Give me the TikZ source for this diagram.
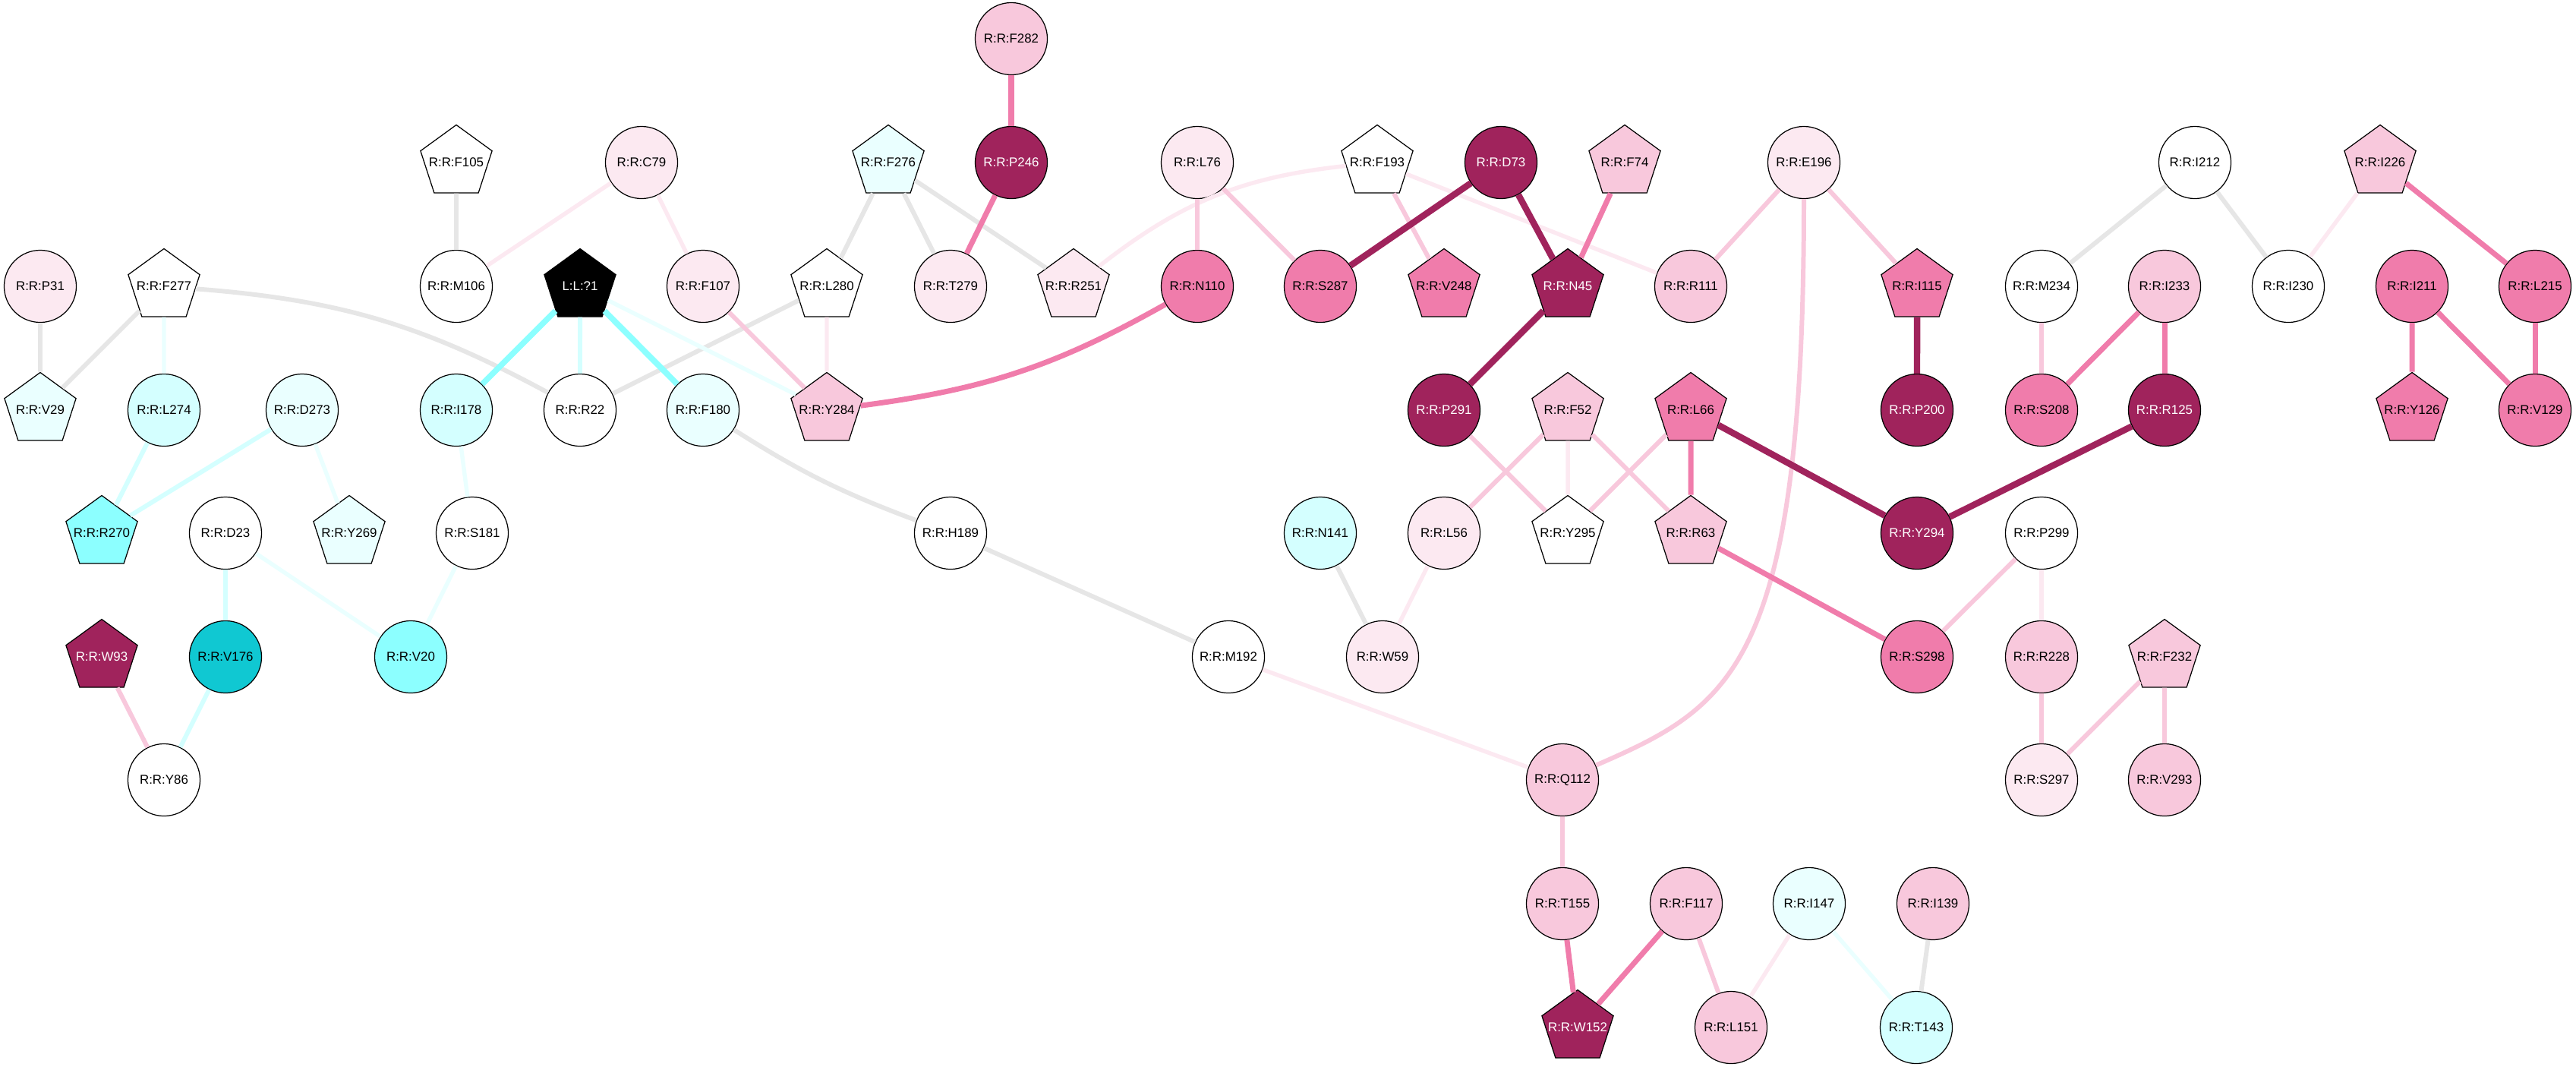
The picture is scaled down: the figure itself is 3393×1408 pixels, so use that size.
\documentclass[tikz,border=0pt]{standalone}
\usepackage{fontspec}
\setmainfont{Liberation Sans}
\usetikzlibrary{shapes.geometric}
\definecolor{gry}{HTML}{E6E6E6}
\definecolor{vlpink}{HTML}{FCE9F1}
\definecolor{lpink}{HTML}{F8C8DC}
\definecolor{mpink}{HTML}{F07CAB}
\definecolor{dmag}{HTML}{A0235C}
\definecolor{vlcyan}{HTML}{EAFFFF}
\definecolor{lcyan}{HTML}{D4FFFF}
\definecolor{cyn}{HTML}{8CFFFF}
\definecolor{dcyan}{HTML}{10C8D2}
\begin{document}
\begin{tikzpicture}[
    x=0.01cm, y=0.01cm,
    res/.style={
      circle, draw=black, line width=0.35pt, fill=white,
      minimum size=0.95cm, inner sep=0pt,
      font=\fontsize{4.8}{5}\selectfont
    },
    pent/.style={
      res, regular polygon, regular polygon sides=5,
      minimum size=0.99cm, inner xsep=-8pt, inner ysep=-1pt
    },
    egrey/.style={draw=gry, line width=1.7pt},
    evlpink/.style={draw=vlpink, line width=1.55pt},
    elpink/.style={draw=lpink, line width=1.7pt},
    empink/.style={draw=mpink, line width=2pt},
    edmag/.style={draw=dmag, line width=2.4pt},
    evlcyan/.style={draw=vlcyan, line width=1.55pt},
    elcyan/.style={draw=lcyan, line width=1.7pt},
    ecyan/.style={draw=cyn, line width=2.2pt}
  ]
    \useasboundingbox (0,0) rectangle (3393,-1408);

    \node[res,fill=lpink] (F282) at (1332,-51) {R:R:F282};

    \node[pent] (F105) at (601,-214) {R:R:F105};
    \node[res,fill=vlpink] (C79) at (845,-214) {R:R:C79};
    \node[pent,fill=vlcyan] (F276) at (1170,-214) {R:R:F276};
    \node[res,fill=dmag,text=white] (P246) at (1332,-214) {R:R:P246};
    \node[res,fill=vlpink] (L76) at (1577,-214) {R:R:L76};
    \node[pent] (F193) at (1814,-214) {R:R:F193};
    \node[res,fill=dmag,text=white] (D73) at (1977,-214) {R:R:D73};
    \node[pent,fill=lpink] (F74) at (2140,-214) {R:R:F74};
    \node[res,fill=vlpink] (E196) at (2376,-214) {R:R:E196};
    \node[res] (I212) at (2891,-214) {R:R:I212};
    \node[pent,fill=lpink] (I226) at (3135,-214) {R:R:I226};

    \node[res,fill=vlpink] (P31) at (53,-377) {R:R:P31};
    \node[pent] (F277) at (216,-377) {R:R:F277};
    \node[res] (M106) at (601,-377) {R:R:M106};
    \node[pent,fill=black,text=white] (lig) at (764,-377) {L:L:?1};
    \node[res,fill=vlpink] (F107) at (926,-377) {R:R:F107};
    \node[pent] (L280) at (1089,-377) {R:R:L280};
    \node[res,fill=vlpink] (T279) at (1252,-377) {R:R:T279};
    \node[pent,fill=vlpink] (R251) at (1414,-377) {R:R:R251};
    \node[res,fill=mpink] (N110) at (1577,-377) {R:R:N110};
    \node[res,fill=mpink] (S287) at (1739,-377) {R:R:S287};
    \node[pent,fill=mpink] (V248) at (1902,-377) {R:R:V248};
    \node[pent,fill=dmag,text=white] (N45) at (2065,-377) {R:R:N45};
    \node[res,fill=lpink] (R111) at (2227,-377) {R:R:R111};
    \node[pent,fill=mpink] (I115) at (2525,-377) {R:R:I115};
    \node[res] (M234) at (2689,-377) {R:R:M234};
    \node[res,fill=lpink] (I233) at (2851,-377) {R:R:I233};
    \node[res] (I230) at (3014,-377) {R:R:I230};
    \node[res,fill=mpink] (I211) at (3177,-377) {R:R:I211};
    \node[res,fill=mpink] (L215) at (3339,-377) {R:R:L215};

    \node[pent,fill=vlcyan] (V29) at (53,-540) {R:R:V29};
    \node[res,fill=lcyan] (L274) at (216,-540) {R:R:L274};
    \node[res,fill=vlcyan] (D273) at (398,-540) {R:R:D273};
    \node[res,fill=lcyan] (I178) at (601,-540) {R:R:I178};
    \node[res] (R22) at (764,-540) {R:R:R22};
    \node[res,fill=vlcyan] (F180) at (926,-540) {R:R:F180};
    \node[pent,fill=lpink] (Y284) at (1089,-540) {R:R:Y284};
    \node[res,fill=dmag,text=white] (P291) at (1902,-540) {R:R:P291};
    \node[pent,fill=lpink] (F52) at (2065,-540) {R:R:F52};
    \node[pent,fill=mpink] (L66) at (2227,-540) {R:R:L66};
    \node[res,fill=dmag,text=white] (P200) at (2525,-540) {R:R:P200};
    \node[res,fill=mpink] (S208) at (2689,-540) {R:R:S208};
    \node[res,fill=dmag,text=white] (R125) at (2851,-540) {R:R:R125};
    \node[pent,fill=mpink] (Y126) at (3177,-540) {R:R:Y126};
    \node[res,fill=mpink] (V129) at (3339,-540) {R:R:V129};

    \node[pent,fill=cyn] (R270) at (134,-702) {R:R:R270};
    \node[res] (D23) at (297,-702) {R:R:D23};
    \node[pent,fill=vlcyan] (Y269) at (460,-702) {R:R:Y269};
    \node[res] (S181) at (622,-702) {R:R:S181};
    \node[res] (H189) at (1252,-702) {R:R:H189};
    \node[res,fill=lcyan] (N141) at (1739,-702) {R:R:N141};
    \node[res,fill=vlpink] (L56) at (1902,-702) {R:R:L56};
    \node[pent] (Y295) at (2065,-702) {R:R:Y295};
    \node[pent,fill=lpink] (R63) at (2227,-702) {R:R:R63};
    \node[res,fill=dmag,text=white] (Y294) at (2525,-702) {R:R:Y294};
    \node[res] (P299) at (2689,-702) {R:R:P299};

    \node[pent,fill=dmag,text=white] (W93) at (134,-865) {R:R:W93};
    \node[res,fill=dcyan] (V176) at (297,-865) {R:R:V176};
    \node[res,fill=cyn] (V20) at (541,-865) {R:R:V20};
    \node[res] (M192) at (1618,-865) {R:R:M192};
    \node[res,fill=vlpink] (W59) at (1821,-865) {R:R:W59};
    \node[res,fill=mpink] (S298) at (2525,-865) {R:R:S298};
    \node[res,fill=lpink] (R228) at (2689,-865) {R:R:R228};
    \node[pent,fill=lpink] (F232) at (2851,-865) {R:R:F232};

    \node[res] (Y86) at (216,-1027) {R:R:Y86};
    \node[res,fill=lpink] (Q112) at (2058,-1027) {R:R:Q112};
    \node[res,fill=vlpink] (S297) at (2689,-1027) {R:R:S297};
    \node[res,fill=lpink] (V293) at (2851,-1027) {R:R:V293};

    \node[res,fill=lpink] (T155) at (2058,-1190) {R:R:T155};
    \node[res,fill=lpink] (F117) at (2221,-1190) {R:R:F117};
    \node[res,fill=vlcyan] (I147) at (2383,-1190) {R:R:I147};
    \node[res,fill=lpink] (I139) at (2546,-1190) {R:R:I139};

    \node[pent,fill=dmag,text=white] (W152) at (2078,-1353) {R:R:W152};
    \node[res,fill=lpink] (L151) at (2280,-1353) {R:R:L151};
    \node[res,fill=lcyan] (T143) at (2524,-1353) {R:R:T143};

    \draw[egrey] (P31) -- (V29);
    \draw[egrey] (F277) -- (V29);
    \draw[egrey] (F277) to[bend left=12] (R22);
    \draw[egrey] (F105) -- (M106);
    \draw[egrey] (R22) -- (L280);
    \draw[egrey] (F276) -- (L280);
    \draw[egrey] (F276) -- (T279);
    \draw[egrey] (F276) -- (R251);
    \draw[egrey] (F180) to[bend right=6] (H189);
    \draw[egrey] (H189) -- (M192);
    \draw[egrey] (I212) -- (M234);
    \draw[egrey] (I212) -- (I230);
    \draw[egrey] (N141) -- (W59);
    \draw[egrey] (I139) -- (T143);

    \draw[evlcyan] (F277) -- (L274);
    \draw[evlcyan] (D273) -- (Y269);
    \draw[evlcyan] (I178) -- (S181);
    \draw[evlcyan] (D23) -- (V20);
    \draw[evlcyan] (S181) -- (V20);
    \draw[evlcyan] (lig) -- (Y284);
    \draw[evlcyan] (I147) -- (T143);
    \draw[elcyan] (lig) -- (R22);
    \draw[elcyan] (L274) -- (R270);
    \draw[elcyan] (D273) -- (R270);
    \draw[elcyan] (D23) -- (V176);
    \draw[elcyan] (V176) -- (Y86);
    \draw[ecyan] (lig) -- (I178);
    \draw[ecyan] (lig) -- (F180);

    \draw[evlpink] (C79) -- (M106);
    \draw[evlpink] (C79) -- (F107);
    \draw[evlpink] (L280) -- (Y284);
    \draw[evlpink] (R251) to[bend left=16] (F193);
    \draw[evlpink] (F193) -- (R111);
    \draw[evlpink] (M192) -- (Q112);
    \draw[evlpink] (F52) -- (Y295);
    \draw[evlpink] (I226) -- (I230);
    \draw[evlpink] (L56) -- (W59);
    \draw[evlpink] (I147) -- (L151);
    \draw[evlpink] (P299) -- (R228);

    \draw[elpink] (W93) -- (Y86);
    \draw[elpink] (F107) -- (Y284);
    \draw[elpink] (L76) -- (N110);
    \draw[elpink] (L76) -- (S287);
    \draw[elpink] (F193) -- (V248);
    \draw[elpink] (E196) -- (R111);
    \draw[elpink] (E196) -- (I115);
    \draw[elpink] (E196) .. controls (2376,-880) and (2280,-930) .. (Q112);
    \draw[elpink] (P291) -- (Y295);
    \draw[elpink] (F52) -- (L56);
    \draw[elpink] (F52) -- (R63);
    \draw[elpink] (L66) -- (Y295);
    \draw[elpink] (M234) -- (S208);
    \draw[elpink] (Q112) -- (T155);
    \draw[elpink] (F117) -- (L151);
    \draw[elpink] (P299) -- (S298);
    \draw[elpink] (R228) -- (S297);
    \draw[elpink] (F232) -- (S297);
    \draw[elpink] (F232) -- (V293);

    \draw[empink] (F282) -- (P246);
    \draw[empink] (P246) -- (T279);
    \draw[empink] (N110) to[bend left=11] (Y284);
    \draw[empink] (F74) -- (N45);
    \draw[empink] (L66) -- (R63);
    \draw[empink] (I226) -- (L215);
    \draw[empink] (I233) -- (S208);
    \draw[empink] (I233) -- (R125);
    \draw[empink] (I211) -- (Y126);
    \draw[empink] (I211) -- (V129);
    \draw[empink] (L215) -- (V129);
    \draw[empink] (R63) -- (S298);
    \draw[empink] (T155) -- (W152);
    \draw[empink] (F117) -- (W152);

    \draw[edmag] (D73) -- (S287);
    \draw[edmag] (D73) -- (N45);
    \draw[edmag] (N45) -- (P291);
    \draw[edmag] (I115) -- (P200);
    \draw[edmag] (L66) -- (Y294);
    \draw[edmag] (R125) -- (Y294);
\end{tikzpicture}
\end{document}
